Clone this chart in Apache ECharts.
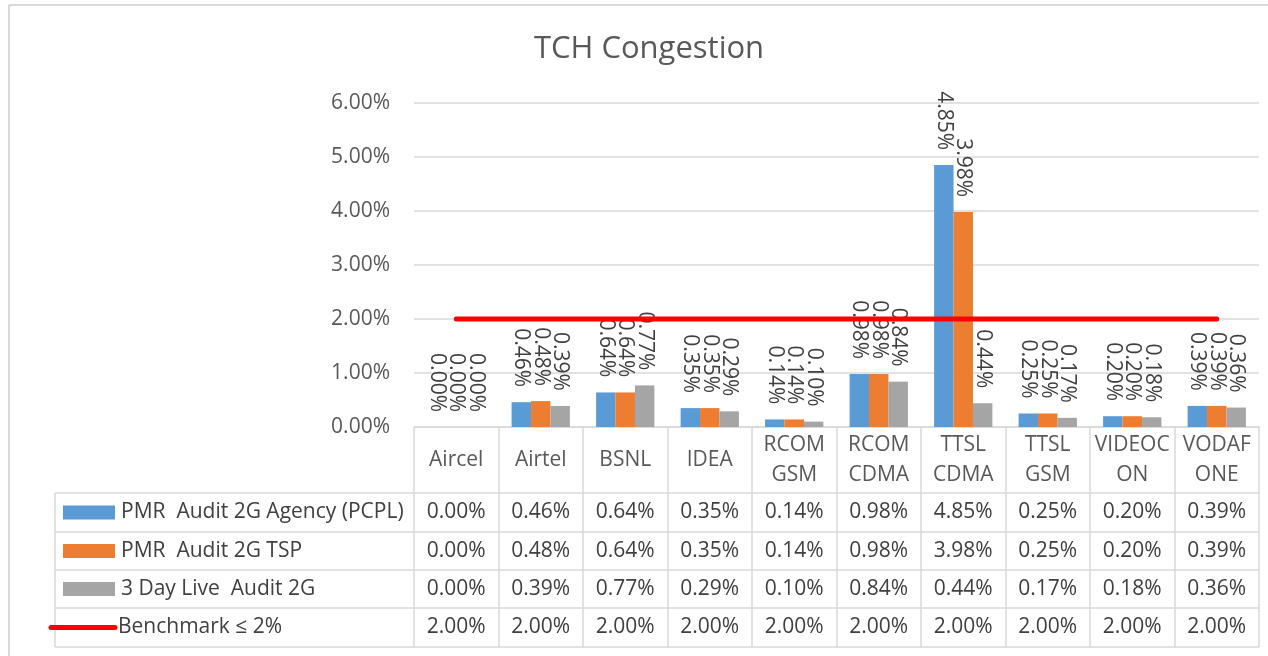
<!DOCTYPE html>
<html>
<head>
<meta charset="utf-8">
<title>TCH Congestion</title>
<script src="https://cdn.jsdelivr.net/npm/echarts@6/dist/echarts.min.js"></script>
<style>
  html, body { margin: 0; padding: 0; background: #fff; }
  #chart { width: 1268px; height: 656px; }
</style>
</head>
<body>
<div id="chart"></div>
<script>
// Data (values in %)
const operators = ['Aircel', 'Airtel', 'BSNL', 'IDEA', 'RCOM\nGSM', 'RCOM\nCDMA', 'TTSL\nCDMA', 'TTSL\nGSM', 'VIDEOC\nON', 'VODAF\nONE'];
const seriesNames = ['PMR  Audit 2G Agency (PCPL)', 'PMR  Audit 2G TSP', '3 Day Live  Audit 2G', 'Benchmark \u2264 2%'];
const agencyPcpl = [0.00, 0.46, 0.64, 0.35, 0.14, 0.98, 4.85, 0.25, 0.20, 0.39];
const tspAudit = [0.00, 0.48, 0.64, 0.35, 0.14, 0.98, 3.98, 0.25, 0.20, 0.39];
const liveAudit = [0.00, 0.39, 0.77, 0.29, 0.10, 0.84, 0.44, 0.17, 0.18, 0.36];
const benchmark = [2.00, 2.00, 2.00, 2.00, 2.00, 2.00, 2.00, 2.00, 2.00, 2.00];
const yTicks = { min: 0, max: 6, step: 1 };

const colors = ['#5b9bd5', '#ed7d31', '#a5a5a5', '#ff0000'];
const FONT = '"Open Sans", sans-serif';
const FS = 21;
const pct = v => v.toFixed(2) + '%';

// layout
const gridLeft = 414, gridTop = 103, gridW = 845, gridH = 324;
const tableLeft = 55;
const rowLines = [493, 532, 570, 608, 647];

const chart = echarts.init(document.getElementById('chart'));

function barSeries(name, data, color) {
    return {
        name: name,
        type: 'bar',
        data: data,
        barGap: '0%',
        barCategoryGap: '31%',
        itemStyle: { color: color },
        label: {
            show: true,
            position: 'top',
            rotate: -90,
            align: 'right',
            verticalAlign: 'middle',
            distance: 15,
            color: '#404040',
            fontFamily: FONT,
            fontSize: FS,
            formatter: p => pct(p.value)
        }
    };
}

chart.setOption({
    animation: false,
    backgroundColor: '#fff',
    grid: { left: gridLeft, top: gridTop, width: gridW, height: gridH },
    xAxis: {
        type: 'category',
        data: operators,
        axisLine: { lineStyle: { color: '#d9d9d9', width: 1.5 } },
        axisTick: { show: true, length: 220, lineStyle: { color: '#d9d9d9', width: 1.5 } },
        axisLabel: {
            color: '#595959', fontFamily: FONT, fontSize: FS,
            margin: 33, verticalAlign: 'middle', lineHeight: 30, interval: 0
        }
    },
    yAxis: {
        type: 'value',
        min: yTicks.min, max: yTicks.max, interval: yTicks.step,
        axisLine: { show: false },
        axisTick: { show: false },
        splitLine: { lineStyle: { color: '#d9d9d9', width: 1.5 } },
        axisLabel: { color: '#595959', fontFamily: FONT, fontSize: FS, margin: 24, formatter: v => pct(v) }
    },
    series: [
        barSeries(seriesNames[0], agencyPcpl, colors[0]),
        barSeries(seriesNames[1], tspAudit, colors[1]),
        barSeries(seriesNames[2], liveAudit, colors[2]),
        {
            name: seriesNames[3],
            type: 'line',
            data: benchmark,
            symbol: 'none',
            z: 5,
            lineStyle: { color: colors[3], width: 5, cap: 'round' }
        }
    ]
});

// data table under the plot, built from the same arrays
const rows = [agencyPcpl, tspAudit, liveAudit, benchmark];
const elements = [];

// frame of the chart area
elements.push({ type: 'line', shape: { x1: 9, y1: 5, x2: 9, y2: 656 }, style: { stroke: '#d9d9d9', lineWidth: 2 } });
elements.push({ type: 'line', shape: { x1: 9, y1: 5, x2: 1268, y2: 5 }, style: { stroke: '#d9d9d9', lineWidth: 2 } });

// title
elements.push({
    type: 'text', x: 649, y: 49,
    style: { text: 'TCH Congestion', fill: '#595959', font: '31px ' + FONT, align: 'center', verticalAlign: 'middle' }
});

// table grid lines
rowLines.forEach(y => {
    elements.push({ type: 'line', shape: { x1: tableLeft, y1: y, x2: gridLeft + gridW, y2: y }, style: { stroke: '#d9d9d9', lineWidth: 1.5 } });
});
elements.push({ type: 'line', shape: { x1: tableLeft, y1: rowLines[0], x2: tableLeft, y2: rowLines[4] }, style: { stroke: '#d9d9d9', lineWidth: 1.5 } });

rows.forEach((vals, r) => {
    const cy = (rowLines[r] + rowLines[r + 1]) / 2;
    // legend key
    if (r < 3) {
        elements.push({ type: 'rect', shape: { x: 63, y: cy - 7, width: 52, height: 14 }, style: { fill: colors[r] } });
    } else {
        elements.push({ type: 'line', shape: { x1: 51, y1: cy, x2: 115, y2: cy }, style: { stroke: colors[r], lineWidth: 5, lineCap: 'round' } });
    }
    elements.push({
        type: 'text', x: r < 3 ? 121 : 118, y: cy,
        style: { text: seriesNames[r], fill: '#404040', font: FS + 'px ' + FONT, align: 'left', verticalAlign: 'middle' }
    });
    vals.forEach((v, i) => {
        const cx = chart.convertToPixel({ xAxisIndex: 0 }, i);
        elements.push({
            type: 'text', x: cx, y: cy,
            style: { text: pct(v), fill: '#404040', font: FS + 'px ' + FONT, align: 'center', verticalAlign: 'middle' }
        });
    });
});

chart.setOption({ graphic: { elements: elements } });
</script>
</body>
</html>
